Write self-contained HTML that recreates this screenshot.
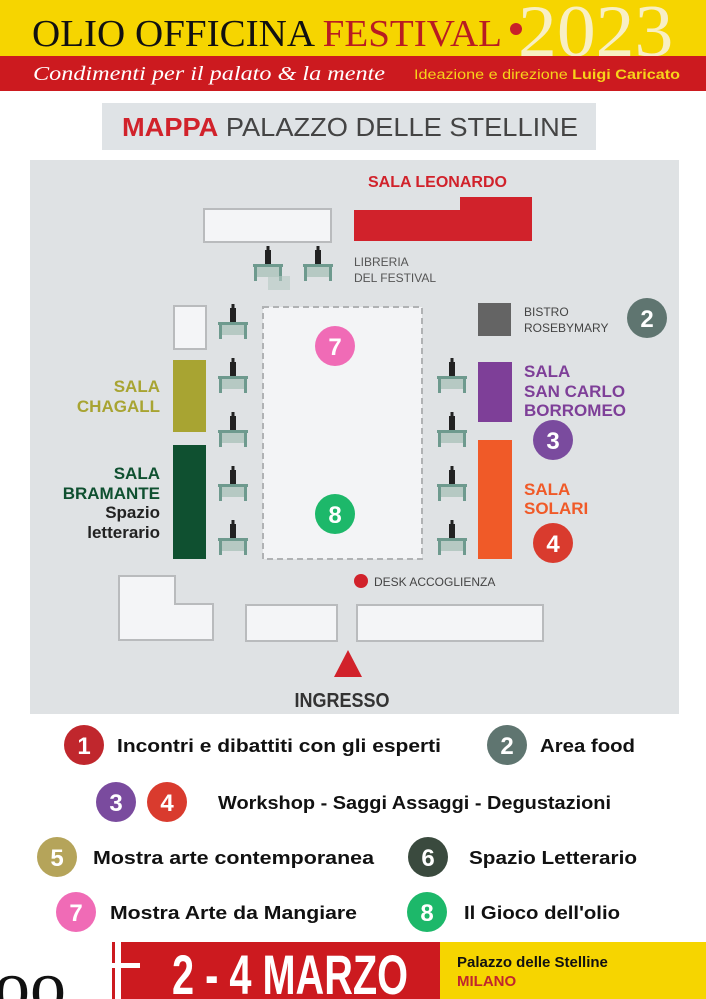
<!DOCTYPE html>
<html><head><meta charset="utf-8"><style>
html,body{margin:0;padding:0;background:#fff;}
svg{display:block}
</style></head><body>
<svg width="706" height="999" viewBox="0 0 706 999" xmlns="http://www.w3.org/2000/svg" font-family="Liberation Sans, sans-serif">
<!-- header -->
<rect x="0" y="0" width="706" height="56" fill="#f6d500"/>
<text x="518" y="56" font-family="Liberation Serif, serif" font-size="74" fill="#f8efc4" transform="translate(518 0) scale(1.05 1) translate(-518 0)">2023</text>
<text x="32" y="46" font-family="Liberation Serif, serif" font-size="38" fill="#111" textLength="470" lengthAdjust="spacingAndGlyphs">OLIO OFFICINA <tspan fill="#b81c22">FESTIVAL</tspan></text>
<circle cx="516" cy="29" r="6" fill="#c8202a"/>
<rect x="0" y="56" width="706" height="35" fill="#cc1a1f"/>
<text x="33" y="80" font-family="Liberation Serif, serif" font-style="italic" font-size="20" fill="#fff" textLength="352" lengthAdjust="spacingAndGlyphs">Condimenti per il palato &amp; la mente</text>
<text x="414" y="79" font-size="13.5" fill="#f7d31a" textLength="266" lengthAdjust="spacingAndGlyphs">Ideazione e direzione <tspan font-weight="bold">Luigi Caricato</tspan></text>
<!-- title -->
<rect x="102" y="103" width="494" height="47" fill="#dfe3e6"/>
<text x="122" y="136" font-size="26" fill="#444" textLength="456" lengthAdjust="spacingAndGlyphs"><tspan font-weight="bold" fill="#d1222b">MAPPA</tspan> PALAZZO DELLE STELLINE</text>
<!-- map -->
<rect x="30" y="160" width="649" height="554" fill="#dfe2e4"/>
<text x="368" y="187" font-size="16" font-weight="bold" fill="#d1222b">SALA LEONARDO</text>
<rect x="204" y="209" width="127" height="33" fill="#f4f5f7" stroke="#b9bbbd" stroke-width="2"/>
<path d="M354 210 H460 V197 H532 V241 H354 Z" fill="#d1222b"/>
<text x="354" y="266" font-size="12" fill="#555">LIBRERIA</text>
<text x="354" y="282" font-size="12" fill="#555">DEL FESTIVAL</text>
<defs>
<g id="tb">
<rect x="-3" y="-22" width="6" height="14" fill="#222"/>
<rect x="-1.5" y="-26" width="3" height="5" fill="#222"/>
<rect x="-15" y="-8" width="30" height="3" fill="#6e9a8e"/>
<rect x="-12" y="-5" width="24" height="10" fill="#b6c9c3"/>
<rect x="-14" y="-5" width="3" height="14" fill="#6e9a8e"/>
<rect x="11" y="-5" width="3" height="14" fill="#6e9a8e"/>
</g>
</defs>
<use href="#tb" x="268" y="272"/><use href="#tb" x="318" y="272"/>
<rect x="268" y="276" width="22" height="14" fill="#b6c9c3" opacity="0.6"/>
<use href="#tb" x="233" y="330"/><use href="#tb" x="233" y="384"/><use href="#tb" x="233" y="438"/><use href="#tb" x="233" y="492"/><use href="#tb" x="233" y="546"/>
<use href="#tb" x="452" y="384"/><use href="#tb" x="452" y="438"/><use href="#tb" x="452" y="492"/><use href="#tb" x="452" y="546"/>
<rect x="263" y="307" width="159" height="252" fill="#f3f4f6" stroke="#b0b2b4" stroke-width="2" stroke-dasharray="6 4"/>
<circle cx="335" cy="346" r="20" fill="#f06bb6"/>
<text x="335" y="355" font-size="24" font-weight="bold" fill="#fff" text-anchor="middle">7</text>
<circle cx="335" cy="514" r="20" fill="#1db86a"/>
<text x="335" y="523" font-size="24" font-weight="bold" fill="#fff" text-anchor="middle">8</text>
<!-- left rooms -->
<rect x="174" y="306" width="32" height="43" fill="#f4f5f7" stroke="#b9bbbd" stroke-width="2"/>
<rect x="173" y="360" width="33" height="72" fill="#a8a432"/>
<rect x="173" y="445" width="33" height="114" fill="#0f5030"/>
<g font-size="17" font-weight="bold" text-anchor="end">
<text x="160" y="392" fill="#a8a432">SALA</text>
<text x="160" y="412" fill="#a8a432">CHAGALL</text>
<text x="160" y="479" fill="#0f5030">SALA</text>
<text x="160" y="499" fill="#0f5030">BRAMANTE</text>
<text x="160" y="518" fill="#222">Spazio</text>
<text x="160" y="538" fill="#222">letterario</text>
</g>
<!-- right rooms -->
<rect x="478" y="303" width="33" height="33" fill="#646464"/>
<text x="524" y="316" font-size="12" fill="#444">BISTRO</text>
<text x="524" y="332" font-size="12" fill="#444">ROSEBYMARY</text>
<circle cx="647" cy="318" r="20" fill="#5f7570"/>
<text x="647" y="327" font-size="24" font-weight="bold" fill="#fff" text-anchor="middle">2</text>
<rect x="478" y="362" width="34" height="60" fill="#7e3f98"/>
<g font-size="17" font-weight="bold" fill="#7e3f98">
<text x="524" y="377">SALA</text><text x="524" y="397">SAN CARLO</text><text x="524" y="416">BORROMEO</text>
</g>
<circle cx="553" cy="440" r="20" fill="#7a4b9e"/>
<text x="553" y="449" font-size="24" font-weight="bold" fill="#fff" text-anchor="middle">3</text>
<rect x="478" y="440" width="34" height="119" fill="#f05a28"/>
<g font-size="17" font-weight="bold" fill="#f05a28">
<text x="524" y="495">SALA</text><text x="524" y="514">SOLARI</text>
</g>
<circle cx="553" cy="543" r="20" fill="#d93b2e"/>
<text x="553" y="552" font-size="24" font-weight="bold" fill="#fff" text-anchor="middle">4</text>
<!-- bottom -->
<circle cx="361" cy="581" r="7" fill="#d1222b"/>
<text x="374" y="586" font-size="12" fill="#444">DESK ACCOGLIENZA</text>
<path d="M119 576 H175 V604 H213 V640 H119 Z" fill="#f4f5f7" stroke="#b9bbbd" stroke-width="2"/>
<rect x="246" y="605" width="91" height="36" fill="#f4f5f7" stroke="#b9bbbd" stroke-width="2"/>
<rect x="357" y="605" width="186" height="36" fill="#f4f5f7" stroke="#b9bbbd" stroke-width="2"/>
<path d="M348 650 L362 677 L334 677 Z" fill="#d1222b"/>
<text x="342" y="707" font-size="20" font-weight="bold" fill="#333" text-anchor="middle" transform="translate(342 0) scale(0.9 1) translate(-342 0)">INGRESSO</text>
<!-- legend -->
<g font-size="18" font-weight="bold" fill="#111">
<circle cx="84" cy="745" r="20" fill="#c0272d"/><text x="84" y="754" font-size="24" fill="#fff" text-anchor="middle">1</text>
<text x="117" y="752" textLength="324" lengthAdjust="spacingAndGlyphs">Incontri e dibattiti con gli esperti</text>
<circle cx="507" cy="745" r="20" fill="#5f7570"/><text x="507" y="754" font-size="24" fill="#fff" text-anchor="middle">2</text>
<text x="540" y="752" textLength="95" lengthAdjust="spacingAndGlyphs">Area food</text>
<circle cx="116" cy="802" r="20" fill="#7a4b9e"/><text x="116" y="811" font-size="24" fill="#fff" text-anchor="middle">3</text>
<circle cx="167" cy="802" r="20" fill="#d93b2e"/><text x="167" y="811" font-size="24" fill="#fff" text-anchor="middle">4</text>
<text x="218" y="809" textLength="393" lengthAdjust="spacingAndGlyphs">Workshop - Saggi Assaggi - Degustazioni</text>
<circle cx="57" cy="857" r="20" fill="#b5a45a"/><text x="57" y="866" font-size="24" fill="#fff" text-anchor="middle">5</text>
<text x="93" y="864" textLength="281" lengthAdjust="spacingAndGlyphs">Mostra arte contemporanea</text>
<circle cx="428" cy="857" r="20" fill="#3a4a3e"/><text x="428" y="866" font-size="24" fill="#fff" text-anchor="middle">6</text>
<text x="469" y="864" textLength="168" lengthAdjust="spacingAndGlyphs">Spazio Letterario</text>
<circle cx="76" cy="912" r="20" fill="#f06bb6"/><text x="76" y="921" font-size="24" fill="#fff" text-anchor="middle">7</text>
<text x="110" y="919" textLength="247" lengthAdjust="spacingAndGlyphs">Mostra Arte da Mangiare</text>
<circle cx="427" cy="912" r="20" fill="#1db86a"/><text x="427" y="921" font-size="24" fill="#fff" text-anchor="middle">8</text>
<text x="464" y="919" textLength="156" lengthAdjust="spacingAndGlyphs">Il Gioco dell'olio</text>
</g>
<!-- footer -->
<rect x="0" y="942" width="440" height="57" fill="#cc1a1f"/>
<rect x="440" y="942" width="266" height="57" fill="#f6d500"/>
<rect x="0" y="942" width="112" height="57" fill="#fff"/>
<text x="-6" y="1010" font-family="Liberation Serif, serif" font-size="72" fill="#111">oo</text>
<rect x="95" y="963" width="45" height="5" fill="#fff"/>
<rect x="115" y="942" width="6" height="57" fill="#fff"/>
<text x="172" y="994" font-size="56" font-weight="bold" fill="#fff" textLength="236" lengthAdjust="spacingAndGlyphs">2 - 4 MARZO</text>
<text x="457" y="967" font-size="15" font-weight="bold" fill="#111">Palazzo delle Stelline</text>
<text x="457" y="986" font-size="15" font-weight="bold" fill="#c0272d">MILANO</text>
</svg>
</body></html>
